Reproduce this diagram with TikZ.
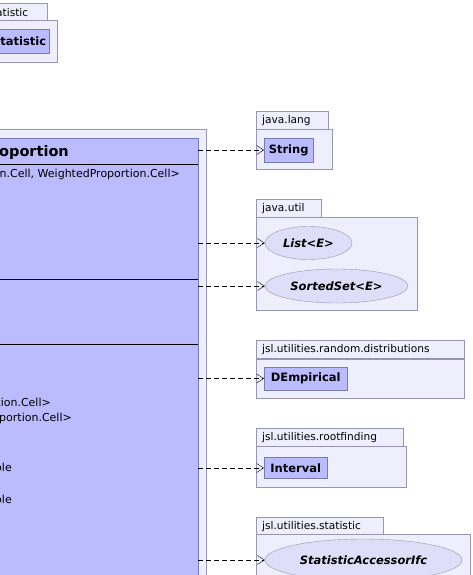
\documentclass[tikz,border=0pt]{standalone}
\usepackage{fontspec}
\setmainfont{DejaVu Sans}
\usetikzlibrary{arrows.meta,shapes.geometric,calc}
\definecolor{pkgfill}{RGB}{238,238,252}
\definecolor{pkgline}{RGB}{150,150,178}
\definecolor{clsfill}{RGB}{187,187,255}
\definecolor{clsline}{RGB}{122,122,178}
\definecolor{ifcfill}{RGB}{222,222,248}

\begin{document}
\begin{tikzpicture}[x=1pt, y=-1pt,
    pkgtab/.style={draw=pkgline, fill=pkgfill, anchor=north west, inner xsep=6pt, inner ysep=0pt,
    minimum height=18pt, align=left, font=\fontsize{10.6}{13}\selectfont},
    pkgbody/.style={draw=pkgline, fill=pkgfill, anchor=north west, inner sep=0pt},
    clsbox/.style={draw=clsline, fill=clsfill, inner sep=0pt, font=\fontsize{11.5}{13}\selectfont\bfseries},
    ifcbox/.style={draw=pkgline, fill=ifcfill, ellipse, inner sep=0pt,
    font=\fontsize{11.5}{13}\selectfont\bfseries\itshape},
    member/.style={anchor=east, inner sep=0pt, font=\fontsize{11}{13}\selectfont},
    sep/.style={draw=black, line width=0.8pt},
    dep/.style={draw=black, dash pattern=on 5pt off 3pt, -{Straight Barb[length=7pt, width=9pt]}},
    ]
    \useasboundingbox (0,0) rectangle (473,575);
    \clip (0,0) rectangle (473,575);

    \node (stattab) [pkgtab, text width=45pt] at (-10,3) {atistic};
    \node (statpkg) [pkgbody, minimum width=67pt, minimum height=42pt] at (-10,20) {};
    \node (stat) [clsbox, anchor=north west, minimum width=59pt, minimum height=24pt,
        text width=53pt, align=right, inner xsep=3pt] at (-10,29) {tatistic};

    \node (mainpkg) [pkgbody, minimum width=216pt, minimum height=470pt] at (-10,129) {};
    \node (main) [draw=clsline, fill=clsfill, anchor=north west, minimum width=208pt,
        minimum height=460pt, inner sep=0pt] at (-10,138) {};
    \node (title) [member, font=\fontsize{14.5}{16}\selectfont\bfseries] at (69,152) {oportion};
    \draw [sep] (main.west |- 0,164) -- (main.east |- 0,164);
    \node (tparam) [member] at (180,174) {n.Cell, WeightedProportion.Cell>};
    \draw [sep] (main.west |- 0,279) -- (main.east |- 0,279);
    \draw [sep] (main.west |- 0,344) -- (main.east |- 0,344);
    \node (fielda) [member] at (51,402) {tion.Cell>};
    \node (fieldb) [member] at (72,418) {portion.Cell>};
    \node (fieldc) [member] at (12,467) {ole};
    \node (fieldd) [member] at (12,499) {ole};

    \node (langtab) [pkgtab, text width=60pt] at (256,111) {java.lang};
    \node (langpkg) [pkgbody, minimum width=76pt, minimum height=40pt] at (256,129) {};
    \node (string) [clsbox, anchor=west, minimum width=49pt, minimum height=24pt] at (264,150) {String};

    \node (utiltab) [pkgtab, text width=53pt] at (256,199) {java.util};
    \node (utilpkg) [pkgbody, minimum width=161pt, minimum height=93pt] at (256,217) {};
    \node (list) [ifcbox, minimum width=87pt, minimum height=33pt] at (308.5,243) {List<E>};
    \node (sortedset) [ifcbox, minimum width=143pt, minimum height=34pt] at (336.5,286) {SortedSet<E>};

    \node (disttab) [pkgtab, text width=196pt] at (256,340) {jsl.utilities.random.distributions};
    \node (distpkg) [pkgbody, minimum width=208pt, minimum height=39pt] at (256,359) {};
    \node (dempirical) [clsbox, anchor=west, minimum width=83pt, minimum height=23pt] at (264,378.5) {DEmpirical};

    \node (roottab) [pkgtab, text width=135pt] at (256,428) {jsl.utilities.rootfinding};
    \node (rootpkg) [pkgbody, minimum width=150pt, minimum height=41pt] at (256,446) {};
    \node (interval) [clsbox, anchor=west, minimum width=63pt, minimum height=21pt] at (264,468) {Interval};

    \node (stattab2) [pkgtab, text width=115pt] at (256,517) {jsl.utilities.statistic};
    \node (statpkg2) [pkgbody, minimum width=214pt, minimum height=60pt] at (256,534) {};
    \node (accessor) [ifcbox, minimum width=197pt, minimum height=42pt] at (363.5,560) {StatisticAccessorIfc};

    \draw [dep] (main.east |- string.west) -- (string.west);
    \draw [dep] (main.east |- list.west) -- (list.west);
    \draw [dep] (main.east |- sortedset.west) -- (sortedset.west);
    \draw [dep] (main.east |- dempirical.west) -- (dempirical.west);
    \draw [dep] (main.east |- interval.west) -- (interval.west);
    \draw [dep] (main.east |- accessor.west) -- (accessor.west);
\end{tikzpicture}
\end{document}
